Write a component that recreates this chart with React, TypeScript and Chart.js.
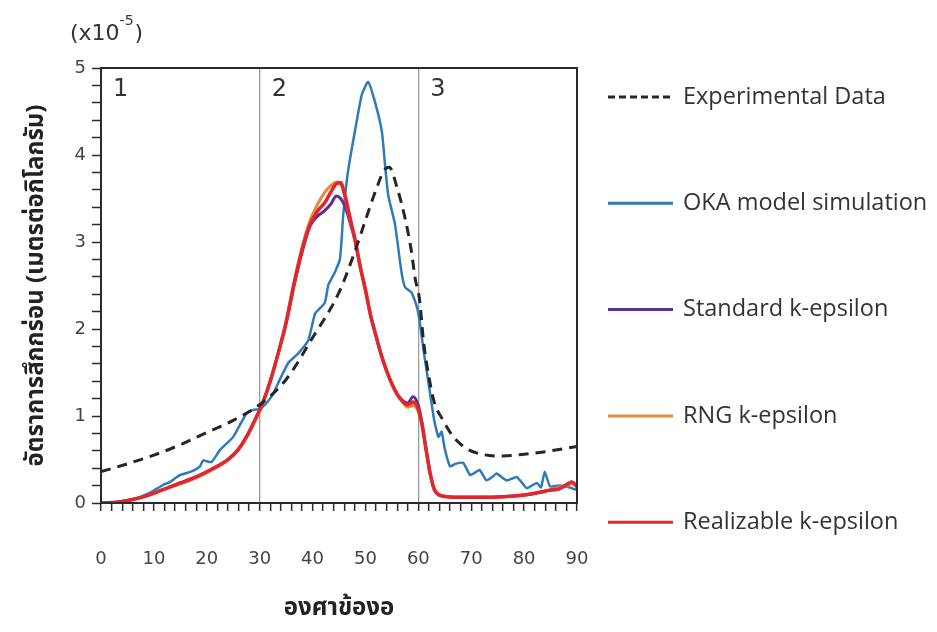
import React, { useEffect, useRef } from "react";
import { Chart, registerables } from "chart.js";

Chart.register(...registerables);

// ---------- data (angle in degrees, erosion rate in units of 1e-5) ----------
const expAngles = [0, 5, 10, 15, 20, 25, 30, 35, 40, 45, 48, 50, 52, 53.5, 54.5, 56, 57.5, 58.7, 59.4, 60.2, 61, 62, 63, 64.5, 66.5, 69, 72, 76, 80, 84, 90];
const expRate = [0.36, 0.45, 0.55, 0.67, 0.81, 0.95, 1.13, 1.42, 1.9, 2.42, 2.89, 3.25, 3.6, 3.82, 3.86, 3.62, 3.27, 2.89, 2.58, 2.35, 1.85, 1.45, 1.16, 0.97, 0.77, 0.63, 0.56, 0.54, 0.56, 0.59, 0.65];

const okaAngles = [0, 3, 6, 9, 11.8, 13, 14.9, 17, 18.7, 19.3, 20.9, 22.5, 25, 27.5, 28.8, 30, 31.3, 32.6, 33.5, 35.4, 37.3, 39.2, 40.5, 42.3, 43, 44.2, 45.2, 45.8, 46.7, 48, 49.3, 50.5, 51.8, 53.1, 53.7, 54.3, 55.6, 56.8, 57.5, 58.7, 59.7, 60.3, 61, 62, 63, 63.8, 64.4, 65, 66, 67, 68.5, 69.8, 71, 71.6, 72.9, 74, 74.8, 76.7, 78.6, 79.5, 80.5, 82.4, 83.2, 83.9, 84.9, 86.5, 88, 90];
const okaRate = [0, 0.01, 0.04, 0.11, 0.21, 0.24, 0.32, 0.36, 0.42, 0.49, 0.47, 0.61, 0.76, 1.03, 1.07, 1.08, 1.15, 1.26, 1.38, 1.61, 1.72, 1.87, 2.18, 2.3, 2.51, 2.65, 2.81, 3.31, 3.81, 4.27, 4.69, 4.84, 4.61, 4.27, 3.89, 3.54, 3.2, 2.66, 2.48, 2.42, 2.26, 2.07, 1.75, 1.35, 0.95, 0.76, 0.82, 0.62, 0.42, 0.45, 0.46, 0.32, 0.36, 0.38, 0.26, 0.3, 0.34, 0.26, 0.3, 0.24, 0.17, 0.23, 0.18, 0.36, 0.19, 0.2, 0.19, 0.15];

const kAngles = [0, 3, 6, 9, 12, 15, 18, 21, 24, 26, 27.5, 29, 30.5, 32, 33.5, 35, 36.5, 38, 39.5, 41, 42.3, 43.5, 44.5, 45.3, 46.2, 47, 48, 49, 50, 51, 52, 53, 54, 55, 56, 57, 58, 59, 60, 60.7, 61.5, 62.3, 63, 64, 66, 69, 72, 75, 78, 81, 83.5, 85, 86.5, 88, 89, 90];
const standardRate = [0, 0.01, 0.04, 0.09, 0.16, 0.23, 0.3, 0.39, 0.5, 0.62, 0.76, 0.94, 1.14, 1.4, 1.72, 2.06, 2.5, 2.88, 3.18, 3.3, 3.36, 3.44, 3.53, 3.5, 3.4, 3.24, 3.02, 2.72, 2.45, 2.15, 1.92, 1.7, 1.52, 1.37, 1.25, 1.18, 1.15, 1.22, 1.12, 0.92, 0.6, 0.32, 0.16, 0.09, 0.07, 0.065, 0.065, 0.07, 0.08, 0.1, 0.13, 0.15, 0.16, 0.21, 0.24, 0.19];
const rngRate = [0, 0.01, 0.04, 0.09, 0.16, 0.22, 0.29, 0.38, 0.49, 0.61, 0.75, 0.93, 1.13, 1.4, 1.72, 2.08, 2.54, 2.94, 3.24, 3.44, 3.57, 3.65, 3.69, 3.67, 3.5, 3.28, 3.04, 2.72, 2.45, 2.15, 1.92, 1.7, 1.52, 1.37, 1.25, 1.16, 1.1, 1.12, 1.05, 0.9, 0.6, 0.32, 0.16, 0.09, 0.07, 0.065, 0.065, 0.07, 0.08, 0.1, 0.13, 0.15, 0.18, 0.2, 0.22, 0.2];
const realizableRate = [0, 0.01, 0.04, 0.09, 0.16, 0.23, 0.3, 0.39, 0.5, 0.62, 0.76, 0.94, 1.14, 1.4, 1.72, 2.08, 2.52, 2.9, 3.2, 3.36, 3.45, 3.58, 3.67, 3.68, 3.52, 3.3, 3.04, 2.72, 2.45, 2.15, 1.92, 1.7, 1.52, 1.37, 1.25, 1.17, 1.13, 1.16, 1.08, 0.9, 0.6, 0.32, 0.16, 0.09, 0.07, 0.065, 0.065, 0.07, 0.08, 0.1, 0.13, 0.15, 0.16, 0.21, 0.24, 0.19];

const seriesNames = ["Experimental Data", "OKA model simulation", "Standard k-epsilon", "RNG k-epsilon", "Realizable k-epsilon"];
const xLabelValues = [0, 10, 20, 30, 40, 50, 60, 70, 80, 90];
const regionStarts = [0, 30, 60];
const regionLabels = ["1", "2", "3"];
const xTitle = "องศาข้องอ";
const yTitle = "อัตราการสึกกร่อน (เมตรต่อกิโลกรัม)";

const THAI = "'Noto Sans Thai', 'Noto Sans Thai UI', 'Noto Sans', 'DejaVu Sans', sans-serif";
const NUM = "'DejaVu Sans', sans-serif";
const LEG = "'Open Sans', 'DejaVu Sans', sans-serif";

const pts = (xs: number[], ys: number[]) => xs.map((x, i) => ({ x, y: ys[i] }));

const decorations = {
  id: "decorations",
  afterDraw(chart: any) {
    const { ctx, chartArea: a, scales } = chart;
    const x = scales.x;
    ctx.save();
    // plot frame
    ctx.strokeStyle = "#2a2a2a";
    ctx.lineWidth = 2;
    ctx.setLineDash([]);
    ctx.strokeRect(a.left, a.top, a.right - a.left, a.bottom - a.top);

    // region numbers
    ctx.fillStyle = "#333";
    ctx.font = `24px ${NUM}`;
    ctx.textBaseline = "top";
    ctx.textAlign = "left";
    regionStarts.forEach((v, i) => {
      ctx.fillText(regionLabels[i], x.getPixelForValue(v) + 12, a.top + 10);
    });

    // multiplier (x10^-5)
    ctx.fillStyle = "#333";
    ctx.textBaseline = "alphabetic";
    ctx.font = `22px ${NUM}`;
    let px = 70;
    const base = 40;
    ctx.fillText("(x10", px, base);
    px += ctx.measureText("(x10").width;
    ctx.font = `14px ${NUM}`;
    ctx.fillText("-5", px, base - 15);
    px += ctx.measureText("-5").width + 1;
    ctx.font = `22px ${NUM}`;
    ctx.fillText(")", px, base);

    // legend
    const ds = chart.data.datasets;
    ctx.textBaseline = "middle";
    ds.forEach((d: any, i: number) => {
      const ly = 97 + i * 106.3;
      ctx.beginPath();
      ctx.strokeStyle = d.borderColor;
      ctx.lineWidth = 3;
      ctx.setLineDash(d.borderDash && d.borderDash.length ? [7, 4] : []);
      ctx.moveTo(608, ly);
      ctx.lineTo(673, ly);
      ctx.stroke();
      ctx.setLineDash([]);
      ctx.fillStyle = "#333";
      ctx.font = `23.5px ${LEG}`;
      ctx.fillText(d.label, 683, ly);
    });
    ctx.restore();
  },
};

export default function App() {
  const ref = useRef<HTMLCanvasElement | null>(null);
  useEffect(() => {
    if (!ref.current) return;
    const chart = new Chart(ref.current, {
      type: "line",
      data: {
        datasets: [
          {
            label: seriesNames[0],
            data: pts(expAngles, expRate),
            borderColor: "#262626",
            borderWidth: 3,
            borderDash: [10, 7],
            pointRadius: 0,
            cubicInterpolationMode: "monotone",
            order: 0,
          },
          {
            label: seriesNames[1],
            data: pts(okaAngles, okaRate),
            borderColor: "#2f7bb8",
            borderWidth: 2.5,
            pointRadius: 0,
            tension: 0.15,
            order: 4,
          },
          {
            label: seriesNames[2],
            data: pts(kAngles, standardRate),
            borderColor: "#5a3196",
            borderWidth: 3,
            pointRadius: 0,
            cubicInterpolationMode: "monotone",
            order: 3,
          },
          {
            label: seriesNames[3],
            data: pts(kAngles, rngRate),
            borderColor: "#e38b3f",
            borderWidth: 3,
            pointRadius: 0,
            cubicInterpolationMode: "monotone",
            order: 2,
          },
          {
            label: seriesNames[4],
            data: pts(kAngles, realizableRate),
            borderColor: "#e2262c",
            borderWidth: 3.5,
            pointRadius: 0,
            cubicInterpolationMode: "monotone",
            order: 1,
          },
        ],
      },
      options: {
        animation: false,
        responsive: false,
        layout: { padding: { left: 0, top: 68, right: 360, bottom: 0 } },
        plugins: { legend: { display: false }, tooltip: { enabled: false } },
        scales: {
          x: {
            type: "linear",
            min: 0,
            max: 90,
            afterFit: (s: any) => {
              s.height = 129;
            },
            ticks: {
              stepSize: 2,
              autoSkip: false,
              maxRotation: 0,
              padding: 38,
              color: "#444",
              font: { family: NUM, size: 18 },
              callback: (v: any) => (xLabelValues.includes(Number(v)) ? String(v) : ""),
            },
            grid: {
              drawOnChartArea: true,
              color: (c: any) => (c.tick && (c.tick.value === regionStarts[1] || c.tick.value === regionStarts[2]) ? "#9c9c9c" : "rgba(0,0,0,0)"),
              lineWidth: 1.3,
              tickColor: "#2a2a2a",
              tickWidth: 1.5,
              tickLength: 8,
            },
            border: { display: true, color: "#2a2a2a", width: 2 },
            title: {
              display: true,
              text: xTitle,
              color: "#222",
              font: { family: THAI, size: 24, weight: "bold" },
              padding: { top: 0, bottom: 7 },
            },
          },
          y: {
            type: "linear",
            min: 0,
            max: 5,
            afterFit: (s: any) => {
              s.width = 101;
            },
            ticks: {
              stepSize: 0.2,
              autoSkip: false,
              padding: 6,
              color: "#444",
              font: { family: NUM, size: 18 },
              callback: (v: any) => (Math.abs(Number(v) - Math.round(Number(v))) < 1e-6 ? String(Math.round(Number(v))) : ""),
            },
            grid: {
              drawOnChartArea: false,
              tickColor: "#2a2a2a",
              tickWidth: 1.5,
              tickLength: 9,
            },
            border: { display: true, color: "#2a2a2a", width: 2 },
            title: {
              display: true,
              text: yTitle,
              color: "#222",
              font: { family: THAI, size: 24, weight: "bold" },
              padding: { top: 24, bottom: 0 },
            },
          },
        },
      },
      plugins: [decorations],
    } as any);
    return () => chart.destroy();
  }, []);
  return (
    <div style={{ position: "absolute", left: 0, top: 0, width: 937, height: 632, background: "#fff" }}>
      <canvas ref={ref} width={937} height={632} style={{ display: "block" }} />
    </div>
  );
}
